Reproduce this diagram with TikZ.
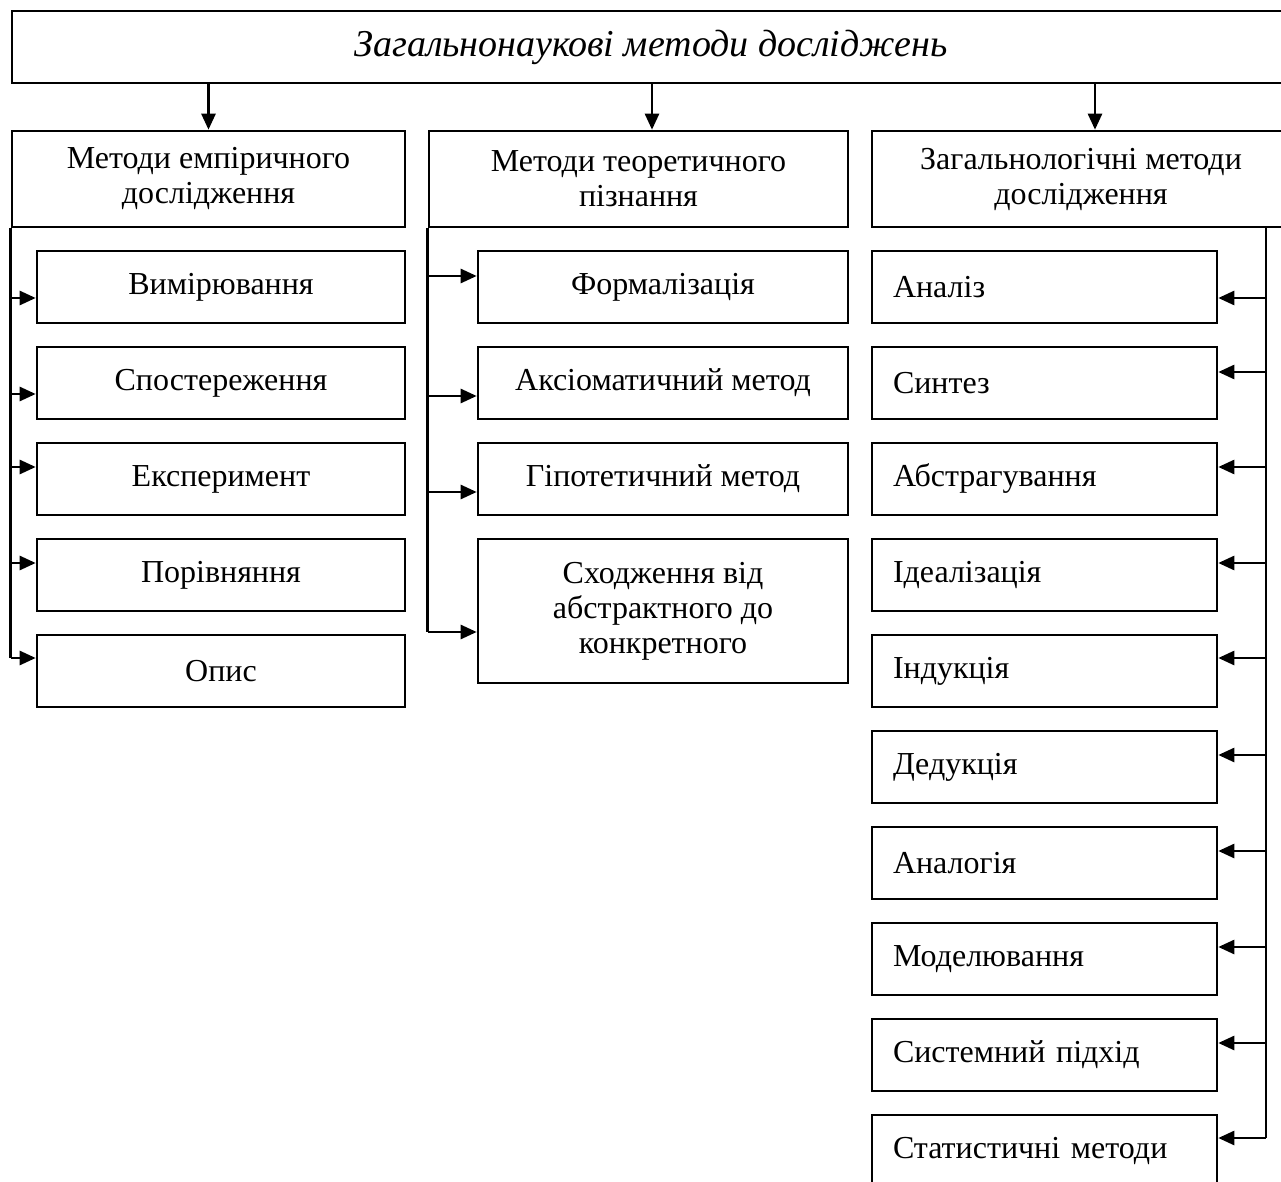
\documentclass[tikz,border=0pt]{standalone}
\usepackage{fontspec}
\setmainfont{Liberation Serif}
\usetikzlibrary{arrows.meta}

\tikzset{
	box/.style={draw, line width=1.3pt, inner sep=0pt, align=center, font=\fontsize{16}{17.5}\selectfont},
	lbox/.style={box, minimum width=184pt, minimum height=36pt},
	mbox/.style={box, minimum width=185pt, minimum height=36pt},
	rbox/.style={box, text width=151.5pt, inner xsep=10.5pt, align=left, minimum height=36pt},
	hbox/.style={box, minimum height=48pt},
	conn/.style={line width=1.3pt},
	arr/.style={conn, -{Triangle[length=8pt, width=7pt]}}
}

\begin{document}
\begin{tikzpicture}[x=0.5pt, y=-0.5pt]
		%%%%% START %%%%%
		\useasboundingbox (0, 0) rectangle (1281, 1182);
		
		\node[box, minimum width=639pt, minimum height=36pt, font=\fontsize{19}{22}\selectfont\itshape] (title) at (651, 47) {Загальнонаукові методи досліджень};
		
		\node[hbox, minimum width=196.5pt] (emp) at (208.5, 179) {Методи емпіричного\\дослідження};
		\node[hbox, minimum width=209.5pt] (teor) at (638.5, 179) {Методи теоретичного\\пізнання};
		\node[hbox, minimum width=209pt] (zlog) at (1081, 179) {Загальнологічні методи\\дослідження};
		
		\draw[arr] (emp.north |- title.south) -- (emp.north);
		\draw[arr] ([xshift=6.75pt]teor.north |- title.south) -- ([xshift=6.75pt]teor.north);
		\draw[arr] ([xshift=7pt]zlog.north |- title.south) -- ([xshift=7pt]zlog.north);
		
		% empirical
		\foreach \t [count=\i] in {Вимірювання, Спостереження, Експеримент, Порівняння, Опис}
			\node[lbox] (e\i) at (221, {287+96*(\i-1)}) {\t};
		\foreach \i/\dy in {1/-5.5, 2/-5.5, 3/6, 4/6, 5/6.5} {
			\coordinate (ea\i) at ([yshift=\dy*1pt]e\i.west);
			\draw[arr] (emp.south west |- ea\i) -- (ea\i);
		}
		\draw[conn] (emp.south west) -- (emp.south west |- ea5);
		
		% theoretical
		\node[mbox] (t1) at (663, 287) {Формалізація};
		\node[mbox] (t2) at (663, 383) {Аксіоматичний метод};
		\node[mbox] (t3) at (663, 479) {Гіпотетичний метод};
		\node[mbox, minimum height=72pt] (t4) at (663, 611) {Сходження від\\абстрактного до\\конкретного};
		\foreach \i/\dy in {1/5.5, 2/-6.5, 3/-6.5, 4/-10.5} {
			\coordinate (ta\i) at ([yshift=\dy*1pt]t\i.west);
			\draw[arr] (teor.south west |- ta\i) -- (ta\i);
		}
		\draw[conn] (teor.south west) -- (teor.south west |- ta4);
		
		% general logical
		\foreach \t [count=\i] in {Аналіз, Синтез, Абстрагування, Ідеалізація, Індукція, Дедукція, Аналогія, Моделювання, Системний підхід, Статистичні методи}
			\node[rbox] (r\i) at (1044.5, {287+96*(\i-1)}) {\t};
		\coordinate (rtop) at (1266, 227);
		\foreach \i/\dy in {1/-5.5, 2/5.5, 3/6, 4/6, 5/6.5, 6/6, 7/6, 8/6, 9/6, 10/6.5} {
			\coordinate (ra\i) at ([yshift=\dy*1pt]r\i.east);
			\draw[arr] (rtop |- ra\i) -- (ra\i);
		}
		\draw[conn] (rtop) -- (rtop |- ra10);
		
		%%%%% END %%%%%
	\end{tikzpicture}
\end{document}
